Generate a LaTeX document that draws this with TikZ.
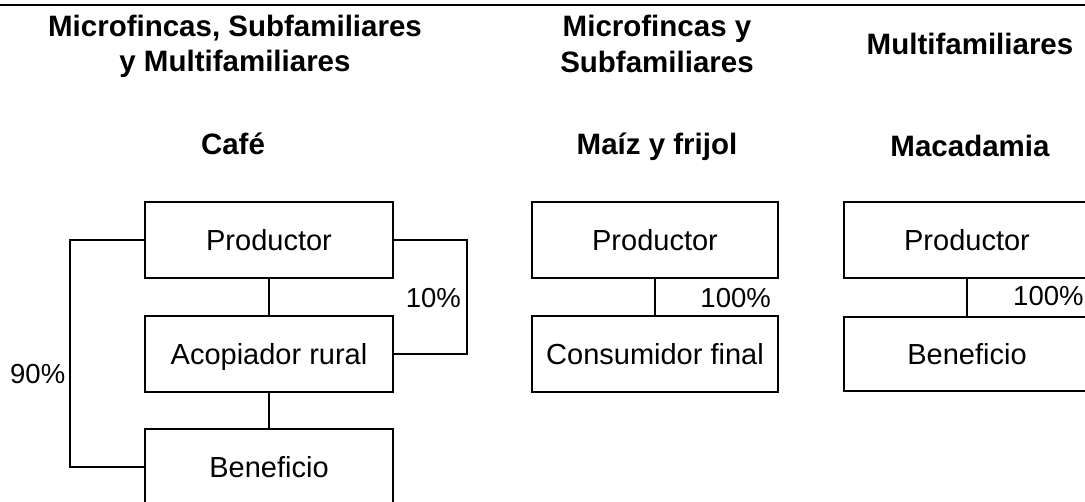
\documentclass[tikz,border=0pt]{standalone}
\usepackage{fontspec}
\setmainfont{Liberation Sans}
\begin{document}
\begin{tikzpicture}[x=1pt,y=-1pt,
  box/.style={draw, line width=1.6pt, minimum width=248pt, minimum height=76pt, inner sep=0pt,
    text height=22pt, text depth=0pt, font=\fontsize{29}{33}\selectfont},
  conn/.style={line width=1.6pt},
  pct/.style={inner sep=0pt, font=\fontsize{27.5}{31}\selectfont},
  head/.style={inner sep=0pt, anchor=base, font=\fontsize{29.5}{34}\selectfont\bfseries}]
\useasboundingbox (0,0) rectangle (1085,502);
\clip (0,0) rectangle (1085,502);
\draw[line width=2pt] (0,5) -- (1085,5);
% headings
\node[head] (h1a) at (235,37) {Microfincas, Subfamiliares};
\node[head] (h1b) at (235,72) {y Multifamiliares};
\node[head] (h2a) at (657,37) {Microfincas y};
\node[head] (h2b) at (657,73) {Subfamiliares};
\node[head] (h3) at (970,55) {Multifamiliares};
\node[head] (t1) at (233,155) {Café};
\node[head] (t2) at (657,155) {Maíz y frijol};
\node[head] (t3) at (970,157) {Macadamia};
% Cafe
\node[box] (cp) at (269,240) {Productor};
\node[box] (ca) at (269,354) {Acopiador rural};
\node[box] (cb) at (269,467) {Beneficio};
\draw[conn] (cp.south) -- (ca.north);
\draw[conn] (ca.south) -- (cb.north);
\draw[conn] (cp.west) -- ++(-74,0) |- (cb.west);
\draw[conn] (cp.east) -- ++(73,0) |- (ca.east);
\node[pct, anchor=base east] (l10) at (461,308) {10\%};
\node[pct, anchor=base west] (l90) at (10,384) {90\%};
% Maiz
\node[box, minimum width=246pt] (mp) at (655,240) {Productor};
\node[box, minimum width=246pt] (mc) at (655,354) {Consumidor final};
\draw[conn] (mp.south) -- (mc.north);
\node[pct, anchor=base east] (l100a) at (771,308) {100\%};
% Macadamia
\node[box, minimum width=246pt] (kp) at (967,240) {Productor};
\node[box, minimum width=246pt, minimum height=74pt] (kb) at (967,354) {Beneficio};
\draw[conn] (kp.south) -- (kb.north);
\node[pct, anchor=base west] (l100b) at (1013,306) {100\%};
\end{tikzpicture}
\end{document}
